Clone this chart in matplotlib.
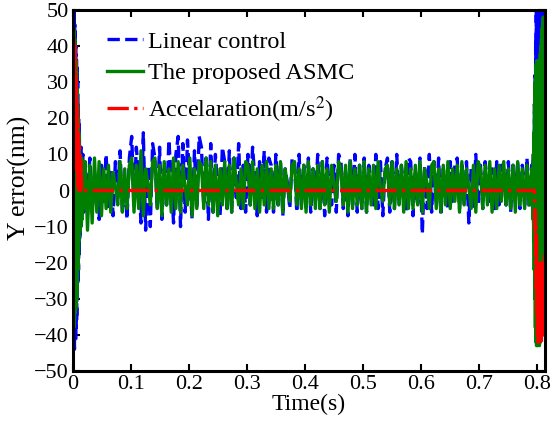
#!/usr/bin/env python3
"""Y error vs time: linear control vs the proposed ASMC (MATLAB-style figure)."""
import numpy as np
import matplotlib
matplotlib.use("Agg")
import matplotlib.pyplot as plt

# ---- data (nm) ----
# start transient, t = 0 .. 0.02 s
lin_start = [48, -45, 50, -42, 50, -44, 46, -40, 44, -42, 40, -38, 37, -36, 34, -30, 30, -26, 24, -22,
             20, -18, 16, -14, 12, -12, 10, -10, 12, -8, 9, -7, 8, -6, 10, -5, 7, -6, 6, -4, 6]
asmc_start = [46, -40, 45, -38, 44, -36, 42, -34, 40, -33, 36, -32, 33, -30, 28, -26, 24, -22, 20, -18,
              16, -14, 12, -12, 10, -11, 9, -10, 8, -9, 9, -8, 7, -6, 8, -5, 6, -5, 7, -4, 5]
acc_start = [0, 38, 10, 42, 15, 36, 8, 40, 20, 32, 12, 30, 5, 26, 8, 22, 2, 18, 0, 14,
             0, 10, 0, 12, 0, 6, 0, 8, 0, 4, 0, 0, 0, 0, 0, 0, 0, 0, 0, 0, 0]

# steady part, t = 0.021 .. 0.791 s
lin_mid = [
    6, -4, 9, -6, 4, 2, -8, 7, -3, 10,
    -5, 5, -7, 8, -2, 11, -6, 3, -8, 9,
    15, -3, 12, 4, -9, 16, -11, 7, -10, 13,
    9, -5, 12, -8, 6, -4, 14, 3, -9, 10,
    15, -10, 13, -6, 14, 2, -8, 11, -5, 15,
    12, -4, 9, -8, 13, -6, 10, 1, -7, 12,
    8, -5, 11, -6, 9, -2, 13, -5, 7, -6,
    10, -4, 12, 3, -7, 8, -3, 11, -6, 9,
    7, -6, 10, -4, 8, -7, 6, 2, -5, 9,
    8, -6, 10, -4, 7, -5, 9, -6, 6, -3,
    10, -5, 8, -7, 9, 1, -4, 7, -6, 10,
    8, -5, 6, -7, 9, -4, 10, -6, 7, -5,
    9, -6, 7, 2, -4, 10, -5, 8, -7, 6,
    9, -6, 8, -5, 10, -4, 7, 1, -6, 9,
    8, -7, 6, -4, 9, -12, 7, -5, 10, -6,
    8, -4, 9, -7, 6, 2, -5, 8, -3, 7,
    9, -5, 7, -4, 8, -9, 6, -5, 10, -4,
    7, -5, 8, 2, -3, 6, -6, 8, -4, 7,
    6, -4, 8, -6, 7, -3, 8, -5, 7, -4,
    9, -5, 7,
]
asmc_mid = [
    8, -11, 7, -9, 9, -6, 8, -7, 6, -5,
    7, -6, 5, 1, -4, 8, -6, 6, -5, 7,
    9, -6, 7, -5, 11, -7, 6, 2, -4, 8,
    9, -5, 7, -7, 8, -4, 6, -6, 9, -5,
    8, -6, 7, 1, -4, 9, -7, 6, -5, 8,
    7, -5, 9, -4, 8, -6, 7, -7, 6, -4,
    8, -5, 7, -6, 9, 2, -4, 6, -5, 8,
    7, -4, 8, -5, 6, -6, 7, -4, 8, -5,
    6, -5, 7, -4, 8, -6, 6, 1, -3, 7,
    8, -4, 6, -5, 7, -6, 8, -4, 6, -5,
    7, -5, 8, -4, 6, -6, 7, 2, -3, 8,
    6, -4, 7, -6, 8, -5, 6, -4, 7, -5,
    8, -6, 6, -4, 7, -5, 8, 1, -3, 6,
    7, -4, 8, -5, 6, -4, 7, -6, 8, -5,
    6, -5, 7, -4, 8, -6, 6, 2, -5, 7,
    8, -5, 6, -6, 7, -4, 8, -5, 6, -3,
    7, -6, 8, -4, 6, 1, -5, 7, -6, 8,
    6, -5, 7, -4, 8, -6, 6, -5, 7, -3,
    8, -4, 6, -5, 7, -6, 8, -4, 6, -5,
    7, -4, 6,
]
acc_mid = [0, 0]

# end transient, t = 0.792 .. 0.814 s
lin_end = [5, -4, 7, -6, 10, -9, 16, -14, 24, -20, 32, -26, 42, -27, 50, -25, 50, -27, 50, -24,
           50, -26, 50, -22, 50, -27, 50, -25, 50, -20, 50, -24, 50, -22, 50, -26, 50, -20, 50, -25,
           50, -22, 50, -18, 50]
asmc_end = [3, -4, 6, -8, 10, -14, 16, -22, 24, -30, 30, -38, 34, -42, 35, -43, 36, -42, 34, -43,
            35, -41, 36, -42, 33, -43, 35, -40, 38, -42, 40, -41, 42, -40, 45, -38, 46, -36, 48, -35,
            48, -34, 47, -32, 45]
acc_end = [0, 0, 0, 0, 0, 0, 0, 0, 0, -4, -12, -6, -20, -10, -28, -14, -34, -20, -40, -24,
           -42, -28, -40, -22, -38, -30, -42, -26, -40, -20, -38, -28, -42, -24, -40, -30, -38, -22, -40, -26,
           -36, -20, -34, -18, -30]

segments = [(0.0, 0.02), (0.021, 0.791), (0.792, 0.814)]

xticks = [0, 0.1, 0.2, 0.3, 0.4, 0.5, 0.6, 0.7, 0.8]
xticklabels = ["0", "0.1", "0.2", "0.3", "0.4", "0.5", "0.6", "0.7", "0.8"]
yticks = list(range(-50, 51, 10))


def series(parts):
    ts, ys = [], []
    for (a, b), vals in zip(segments, parts):
        ts.append(np.linspace(a, b, len(vals)))
        ys.append(np.asarray(vals, dtype=float))
    return np.concatenate(ts), np.concatenate(ys)


plt.rcParams["font.family"] = ["Liberation Serif", "DejaVu Serif"]
plt.rcParams["mathtext.fontset"] = "stix"
plt.rcParams["font.size"] = 16

fig = plt.figure(figsize=(5.51, 4.21), dpi=100)
ax = fig.add_axes([0.1325, 0.119, 0.8565, 0.857])

t, y = series([lin_start, lin_mid, lin_end])
ax.plot(t, y, "--", color=(0, 0, 1), linewidth=2.4, label="Linear control")
t, y = series([asmc_start, asmc_mid, asmc_end])
ax.plot(t, y, "-", color=(0, 0.5, 0), linewidth=2.4, label="The proposed ASMC")
t, y = series([acc_start, acc_mid, acc_end])
ax.plot(t, y, "-.", color=(1, 0, 0), linewidth=2.4, label=r"Accelaration(m/s$^2$)")

ax.set_xlim(0, 0.814)
ax.set_ylim(-50, 50)
ax.set_xticks(xticks)
ax.set_xticklabels(xticklabels)
ax.set_yticks(yticks)
ax.tick_params(direction="in", top=True, right=True, length=5, width=1.5, pad=3)
for s in ax.spines.values():
    s.set_linewidth(2.2)
ax.set_xlabel("Time(s)", fontsize=17, labelpad=0)
ax.set_ylabel("Y error(nm)", fontsize=18.5)
ax.yaxis.set_label_coords(-0.09, 0.535)

ax.legend(loc="upper left", bbox_to_anchor=(0.035, 0.99), frameon=False, fontsize=17.5,
          handlelength=1.5, handletextpad=0.2, labelspacing=0.4, borderaxespad=0.3)

fig.savefig("out.png", dpi=100)
